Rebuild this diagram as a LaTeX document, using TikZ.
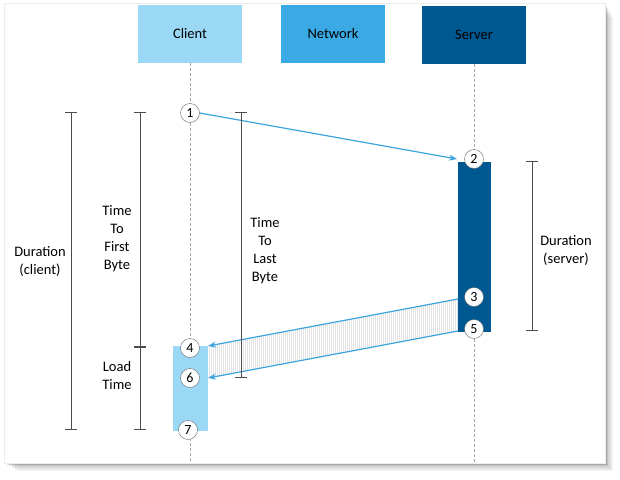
\documentclass[tikz,border=0pt]{standalone}
\usepackage{fontspec}
\setmainfont{Carlito}
\usetikzlibrary{arrows.meta}

\definecolor{clientblue}{RGB}{154,216,245}
\definecolor{netblue}{RGB}{59,170,228}
\definecolor{serverblue}{RGB}{0,88,146}
\definecolor{msgblue}{RGB}{61,165,221}

\tikzset{
  header/.style={minimum width=104pt, minimum height=58pt, inner sep=0pt, font=\fontsize{14.5}{17}\selectfont},
  step circle/.style={circle, draw=gray!80!black, fill=white, minimum size=19pt, inner sep=0pt, font=\fontsize{14}{16}\selectfont},
  lifeline/.style={gray!70, dashed, dash pattern=on 3pt off 2pt},
  message/.style={msgblue, line width=1.2pt, -{Stealth[length=8pt, width=6pt]}},
  span/.style={gray!60!black, line width=0.9pt, {Bar[width=12pt]}-{Bar[width=12pt]}},
  spanlabel/.style={align=center, font=\fontsize{14.5}{18}\selectfont}
}

\begin{document}
\begin{tikzpicture}[x=1pt, y=-1pt]
\useasboundingbox (0,0) rectangle (620,479);

% frame with a soft shadow
\foreach \d/\o in {14/0.04, 11/0.06, 8/0.08, 5/0.10, 3/0.12}
  \fill[black, opacity=\o] (4+\d,3+\d) rectangle (605+\d*0.6,463+\d*0.6);
\fill[white] (4,3) rectangle (605,463);
\draw[gray!15] (4,3) rectangle (605,463);

% participants
\node[header, fill=clientblue] (client) at (190,34) {Client};
\node[header, fill=netblue] (network) at (333,34) {Network};
\node[header, fill=serverblue] (server) at (474,35) {Server};

\coordinate (clientend) at (190,462);
\coordinate (serverend) at (474,462);
\draw[lifeline] (client.south) -- (clientend);
\draw[lifeline] (server.south) -- (serverend);

% activity bars
\fill[serverblue] (458,162) rectangle (491,332);
\fill[clientblue] (173,346) rectangle (208,431);

% hatched transfer band
\begin{scope}
  \clip (208,346) -- (458,299) -- (458,331) -- (208,378) -- cycle;
  \foreach \x in {209,211,...,457}
    \draw[gray!22, line width=0.4pt] (\x,290) -- (\x,390);
\end{scope}

% steps
\node[step circle] (s1) at (190,113) {1};
\node[step circle] (s2) at (474,159) {2};
\node[step circle] (s3) at (474,297) {3};
\node[step circle] (s5) at (474,329) {5};
\node[step circle] (s4) at (190,348) {4};
\node[step circle] (s6) at (190,378) {6};
\node[step circle] (s7) at (188,430) {7};

\coordinate (a2) at (457,159);
\coordinate (a3) at (458,299);
\coordinate (a4) at (208,346);
\coordinate (a5) at (458,331);
\coordinate (a6) at (208,378);
\draw[message] (s1.east) -- (a2);
\draw[message] (a3) -- (a4);
\draw[message] (a5) -- (a6);

% time spans
\coordinate (dc1) at (71,112);  \coordinate (dc2) at (71,430);
\coordinate (tf1) at (140,112); \coordinate (tf2) at (140,347);
\coordinate (lt2) at (140,430);
\coordinate (tl1) at (241,112); \coordinate (tl2) at (241,378);
\coordinate (ds1) at (532,161); \coordinate (ds2) at (532,331);
\draw[span] (dc1) -- (dc2);
\draw[span] (tf1) -- (tf2);
\draw[span] (tf2) -- (lt2);
\draw[span] (tl1) -- (tl2);
\draw[span] (ds1) -- (ds2);

\node[spanlabel] (durclient) at (40,261) {Duration\\(client)};
\node[spanlabel] (ttfb) at (117,239) {Time\\To\\First\\Byte};
\node[spanlabel] (loadtime) at (117,376) {Load\\Time};
\node[spanlabel] (ttlb) at (265,251) {Time\\To\\Last\\Byte};
\node[spanlabel] (durserver) at (566,250) {Duration\\(server)};
\end{tikzpicture}
\end{document}
